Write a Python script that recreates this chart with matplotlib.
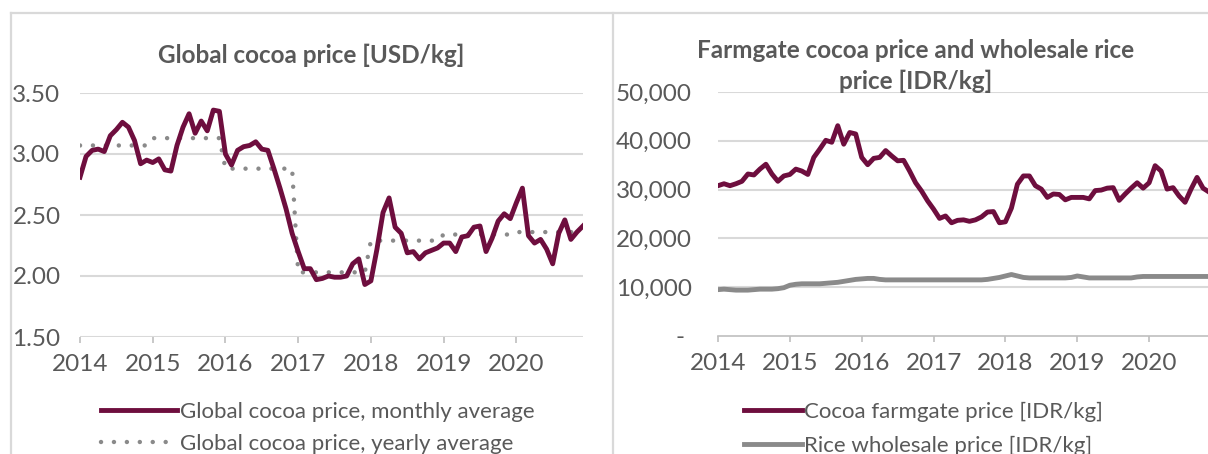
import matplotlib
matplotlib.use("Agg")
import matplotlib.pyplot as plt
from matplotlib.lines import Line2D
import numpy as np

plt.rcParams['font.family'] = ['Lato', 'DejaVu Sans']

# monthly data, Jan 2014 .. Dec 2020
years = ["2014", "2015", "2016", "2017", "2018", "2019", "2020"]

cocoa_usd_monthly = [
    2.81, 2.98, 3.03, 3.04, 3.02, 3.15, 3.20, 3.26, 3.22, 3.11, 2.92, 2.95,
    2.93, 2.96, 2.87, 2.86, 3.07, 3.22, 3.33, 3.17, 3.27, 3.19, 3.36, 3.35,
    3.00, 2.91, 3.03, 3.06, 3.07, 3.10, 3.04, 3.03, 2.88, 2.72, 2.55, 2.35,
    2.20, 2.06, 2.06, 1.97, 1.98, 2.00, 1.99, 1.99, 2.00, 2.10, 2.14, 1.93,
    1.96, 2.22, 2.52, 2.64, 2.40, 2.35, 2.19, 2.20, 2.14, 2.19, 2.21, 2.23,
    2.27, 2.27, 2.20, 2.32, 2.33, 2.40, 2.41, 2.20, 2.31, 2.45, 2.51, 2.47,
    2.60, 2.72, 2.33, 2.27, 2.30, 2.22, 2.10, 2.35, 2.46, 2.30, 2.36, 2.41,
]
cocoa_usd_yearly = [3.07, 3.13, 2.88, 2.03, 2.29, 2.34, 2.36]

cocoa_idr = [
    30800, 31200, 30800, 31200, 31700, 33200, 33000, 34200, 35200, 33200, 31700, 32800,
    33100, 34200, 33800, 33100, 36600, 38300, 40100, 39700, 43100, 39300, 41700, 41400,
    36600, 35100, 36400, 36600, 38000, 36900, 35900, 36000, 33800, 31400, 29700, 27700,
    26000, 24100, 24600, 23200, 23700, 23800, 23500, 23800, 24400, 25400, 25500, 23200,
    23400, 26200, 31100, 32800, 32800, 30800, 30100, 28400, 29100, 29000, 27900, 28400,
    28400, 28400, 28100, 29800, 29900, 30300, 30400, 27800, 29100, 30300, 31400, 30300,
    31400, 34900, 33800, 30100, 30400, 28700, 27400, 30100, 32500, 30300, 29500, 30000,
]
rice_idr = [
    9500, 9600, 9500, 9400, 9400, 9400, 9500, 9600, 9600, 9600, 9700, 9900,
    10400, 10600, 10700, 10700, 10700, 10700, 10800, 10900, 11000, 11200, 11400, 11600,
    11700, 11800, 11800, 11600, 11500, 11500, 11500, 11500, 11500, 11500, 11500, 11500,
    11500, 11500, 11500, 11500, 11500, 11500, 11500, 11500, 11500, 11600, 11800, 12000,
    12300, 12600, 12300, 12000, 11900, 11900, 11900, 11900, 11900, 11900, 11900, 12000,
    12300, 12100, 11900, 11900, 11900, 11900, 11900, 11900, 11900, 11900, 12100, 12200,
    12200, 12200, 12200, 12200, 12200, 12200, 12200, 12200, 12200, 12200, 12200, 12200,
]

MAROON = "#6e0e3e"
GREY = "#8a8a8a"
TXT = "#595959"
GRID = "#d9d9d9"
TICK_FS = 17.5
TITLE_FS = 17.5
LEG_FS = 16

W, H = 1208, 454
fig = plt.figure(figsize=(W / 100, H / 100), dpi=100)


def px_axes(x0, y_top, x1, y_bot):
    return fig.add_axes([x0 / W, 1 - y_bot / H, (x1 - x0) / W, (y_bot - y_top) / H])


def style(ax, ypad):
    ax.set_xticks(range(0, 84, 12))
    ax.set_xticklabels(years)
    ax.set_xlim(0, 83)
    for s in ["top", "right", "left"]:
        ax.spines[s].set_visible(False)
    ax.spines["bottom"].set_color("#bfbfbf")
    ax.spines["bottom"].set_linewidth(1.2)
    ax.grid(axis="y", color=GRID, lw=1.5)
    ax.set_axisbelow(True)
    ax.tick_params(axis="x", colors="#bfbfbf", length=4, width=1.2, pad=8.5,
                   labelcolor=TXT, labelsize=TICK_FS)
    ax.tick_params(axis="y", length=0, pad=ypad, labelcolor=TXT, labelsize=TICK_FS)


n = len(cocoa_usd_monthly)
months = np.arange(n)
dots = (0, (0.01, 2.9))

# left chart
ax1 = px_axes(80, 93, 583, 337)
yearly_line = np.repeat(cocoa_usd_yearly, 12)
ax1.plot(months, yearly_line, color=GREY, lw=3.2, linestyle=dots, dash_capstyle="round")
ax1.plot(months, cocoa_usd_monthly, color=MAROON, lw=3.5, solid_joinstyle="round")
ax1.set_ylim(1.5, 3.5)
ax1.set_yticks([1.5, 2.0, 2.5, 3.0, 3.5])
ax1.set_yticklabels(["1.50", "2.00", "2.50", "3.00", "3.50"])
style(ax1, 14)
ax1.spines["bottom"].set_visible(False)

fig.text(311 / W, 1 - 55 / H, "Global cocoa price [USD/kg]", ha="center", va="center",
         fontsize=TITLE_FS, fontweight="bold", color=TXT)

h1 = [Line2D([], [], color=MAROON, lw=3.5),
      Line2D([], [], color=GREY, lw=3.2, linestyle=dots, dash_capstyle="round")]
fig.legend(h1, ["Global cocoa price, monthly average", "Global cocoa price, yearly average"],
           loc="upper left", bbox_to_anchor=(101 / W, 1 - 402 / H), frameon=False,
           fontsize=LEG_FS, labelcolor=TXT, handlelength=3.4, handletextpad=0.15,
           labelspacing=0.55, borderpad=0, borderaxespad=0)

# right chart (runs past the right edge of the image)
ax2 = px_axes(718, 92, 1215, 336)
ax2.plot(months, rice_idr, color=GREY, lw=3.5, solid_joinstyle="round")
ax2.plot(months, cocoa_idr, color=MAROON, lw=3.5, solid_joinstyle="round")
ax2.set_ylim(0, 50000)
ax2.set_yticks(range(0, 50001, 10000))
ax2.set_yticklabels(["- ", "10,000", "20,000", "30,000", "40,000", "50,000"])
style(ax2, 19)
ax2.get_ygridlines()[0].set_visible(False)

fig.text(916 / W, 1 - 66 / H, "Farmgate cocoa price and wholesale rice\nprice [IDR/kg]",
         ha="center", va="center", fontsize=TITLE_FS, fontweight="bold", color=TXT,
         linespacing=1.35)

h2 = [Line2D([], [], color=MAROON, lw=3.5), Line2D([], [], color=GREY, lw=3.5)]
fig.legend(h2, ["Cocoa farmgate price [IDR/kg]", "Rice wholesale price [IDR/kg]"],
           loc="upper left", bbox_to_anchor=(744 / W, 1 - 402 / H), frameon=False,
           fontsize=LEG_FS, labelcolor=TXT, handlelength=2.6, handletextpad=0.1,
           labelspacing=0.6, borderpad=0, borderaxespad=0)

# panel frames
border = dict(color=GRID, lw=1.6, transform=fig.transFigure)
fig.add_artist(Line2D([11 / W, 1], [1 - 13 / H, 1 - 13 / H], **border))
fig.add_artist(Line2D([11 / W, 11 / W], [0, 1 - 13 / H], **border))
fig.add_artist(Line2D([613 / W, 613 / W], [0, 1 - 13 / H], **border))

fig.savefig("out.png", dpi=100, facecolor="white")
